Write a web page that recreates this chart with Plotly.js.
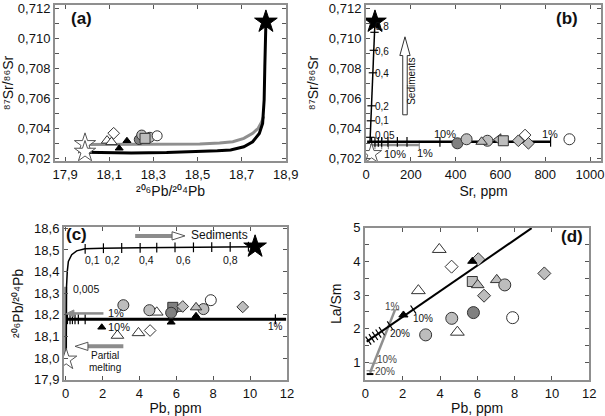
<!DOCTYPE html>
<html>
<head>
<meta charset="utf-8">
<script src="https://cdn.plot.ly/plotly-3.0.1.min.js"></script>
<style>
html,body{margin:0;padding:0;background:#fff;}
#chart{width:605px;height:416px;}
</style>
</head>
<body>
<div id="chart"></div>
<script>
// ================= DATA =================
// ---- Panel (a): 206Pb/204Pb vs 87Sr/86Sr ----
const aCurveBlackX = [17.99, 18.2, 18.36, 18.5, 18.59, 18.65, 18.71, 18.75, 18.78, 18.795, 18.802, 18.805, 18.807, 18.81];
const aCurveBlackY = [0.70240, 0.70236, 0.70238, 0.70243, 0.70250, 0.70256, 0.70277, 0.70310, 0.70365, 0.70433, 0.70590, 0.70810, 0.71030, 0.71110];
const aCurveGrayX = [17.99, 18.2, 18.4, 18.51, 18.6, 18.66, 18.71, 18.75, 18.775, 18.79, 18.80];
const aCurveGrayY = [0.70292, 0.70292, 0.70293, 0.70296, 0.70302, 0.70310, 0.70333, 0.70367, 0.70400, 0.70440, 0.70480];
const aWhiteStarX = [17.99, 17.99];       const aWhiteStarY = [0.70295, 0.70244];
const aBlackStarX = [18.81];              const aBlackStarY = [0.7111];
const aWhiteTriX = [18.09, 18.11];        const aWhiteTriY = [0.70318, 0.70308];
const aWhiteDiaX = [18.12];               const aWhiteDiaY = [0.70367];
const aBlackTriX = [18.145, 18.18];       const aBlackTriY = [0.70267, 0.70317];
const aDarkCircX = [18.236];              const aDarkCircY = [0.70325];
const aGrayCircX = [18.247, 18.284];      const aGrayCircY = [0.70355, 0.70340];
const aGraySqX = [18.262];                const aGraySqY = [0.70333];
const aWhiteCircX = [18.317];             const aWhiteCircY = [0.70350];

// ---- Panel (b): Sr ppm vs 87Sr/86Sr ----
const bMixX = [18, 40];                   const bMixY = [0.7031, 0.7111];
const bMixTickX = [19, 22, 25, 31, 35, 38];
const bMixTickY = [0.7034, 0.7045, 0.7055, 0.7077, 0.7092, 0.7104];
const bMixLabels = ['0,05', '0,1', '0,2', '0,4', '0,6', '0,8'];
const bMixLabelY = [0.70350, 0.70455, 0.70548, 0.70765, 0.70912, 0.71078];
const bMeltBlackX = [5, 824];             const bMeltBlackY = [0.7031, 0.7031];
const bMeltBlackTickX = [25, 40, 55, 70, 98, 140, 183, 330, 824];
const bMeltGrayX = [18, 238];             const bMeltGrayY = [0.70289, 0.70289];
const bMeltGrayTickX = [40, 70, 100, 238];
const bDarkCircX = [408];                 const bDarkCircY = [0.70300];
const bGrayCircX = [449, 542];            const bGrayCircY = [0.70327, 0.70317];
const bGrayTriX = [516];                  const bGrayTriY = [0.70310];
const bGrayTriLX = [591];                 const bGrayTriLY = [0.70325];
const bGraySqX = [613];                   const bGraySqY = [0.70317];
const bGrayDiaX = [680, 725];             const bGrayDiaY = [0.70317, 0.70300];
const bWhiteDiaX = [710];                 const bWhiteDiaY = [0.70355];
const bWhiteCircX = [908];                const bWhiteCircY = [0.70327];
const bWhiteStarX = [25];                 const bWhiteStarY = [0.70230];
const bBlackStarX = [40];                 const bBlackStarY = [0.7111];

// ---- Panel (c): Pb ppm vs 206Pb/204Pb ----
const cMixX = [0.03, 0.03, 0.05, 0.09, 0.15, 0.33, 0.6, 1.05, 2, 4, 6, 8, 10.27];
const cMixY = [17.994, 18.2, 18.33, 18.4, 18.447, 18.478, 18.496, 18.505, 18.508, 18.51, 18.512, 18.513, 18.515];
const cMixTickX = [1.06, 2.05, 3.04, 4.04, 4.94, 5.93, 6.93, 7.92, 8.92, 9.91];
const cMixTickY = [18.505, 18.508, 18.509, 18.51, 18.511, 18.512, 18.512, 18.513, 18.514, 18.515];
const cFracLabels = ['0,1', '0,2', '0,4', '0,6', '0,8'];
const cFracLabelX = [0.95, 2.0, 3.85, 5.9, 8.4];
const cGrayVertX = [0.0, 0.0];            const cGrayVertY = [17.994, 18.33];
const cMeltX = [0.06, 11.95];             const cMeltY = [18.18, 18.18];
const cMeltTickX = [0.1, 0.24, 0.37, 0.51, 0.69, 1.06, 11.37];
const cWhiteStarX = [0.03];               const cWhiteStarY = [17.994];
const cBlackStarX = [10.27];              const cBlackStarY = [18.515];
const cGrayCircX = [3.13, 4.54, 7.47];    const cGrayCircY = [18.245, 18.222, 18.227];
const cDarkCircX = [5.72];                const cDarkCircY = [18.21];
const cGraySqX = [5.81];                  const cGraySqY = [18.235];
const cGrayTriX = [6.03, 7.07];           const cGrayTriY = [18.228, 18.235];
const cGrayDiaX = [6.35, 9.6];            const cGrayDiaY = [18.239, 18.237];
const cWhiteCircX = [7.87];               const cWhiteCircY = [18.268];
const cWhiteTriX = [4.94, 2.81, 3.95];    const cWhiteTriY = [18.212, 18.105, 18.117];
const cWhiteDiaX = [4.58];                const cWhiteDiaY = [18.128];
const cBlackTriX = [1.96, 5.72, 7.07];    const cBlackTriY = [18.143, 18.166, 18.196];

// ---- Panel (d): Pb ppm vs La/Sm ----
const dMeltBlackX = [0.07, 8.91];         const dMeltBlackY = [1.62, 4.98];
const dMeltBlackTickX = [0.16, 0.34, 0.52, 0.70, 0.88, 1.32, 2.57];
const dMeltBlackTickY = [1.65, 1.72, 1.79, 1.86, 1.93, 2.10, 2.57];
const dMeltGrayX = [0.25, 1.59];          const dMeltGrayY = [0.70, 2.56];
const dMeltGrayTickX = [0.29, 0.43, 1.59]; const dMeltGrayTickY = [0.76, 0.98, 2.56];
const dBaseX = [0.07, 0.43];              const dBaseY = [0.66, 0.66];
const dWhiteTriX = [3.96, 2.84, 4.93];    const dWhiteTriY = [4.35, 3.13, 1.90];
const dWhiteDiaX = [4.62];                const dWhiteDiaY = [3.84];
const dBlackTriX = [5.73, 2.04];          const dBlackTriY = [4.00, 2.41];
const dGrayDiaX = [6.05, 9.59, 6.36];     const dGrayDiaY = [4.06, 3.64, 2.98];
const dGraySqX = [5.73];                  const dGraySqY = [3.40];
const dGrayTriX = [6.02, 7.04];           const dGrayTriY = [3.30, 3.45];
const dGrayCircX = [7.47, 4.63, 3.23];    const dGrayCircY = [3.30, 2.31, 1.82];
const dDarkCircX = [5.79];                const dDarkCircY = [2.48];
const dWhiteCircX = [7.89];               const dWhiteCircY = [2.33];

// ================= STYLE =================
const FONT = 'Liberation Sans, Arial, Helvetica, sans-serif';
const WHITE = '#ffffff', GRAY = '#bdbdbd', DARK = '#808080', EDGE = '#333333', LGRAY = '#8c8c8c';

function pts(x, y, xa, ya, symbol, fill, size, edge) {
  return {type:'scatter', mode:'markers', x:x, y:y, xaxis:xa, yaxis:ya, hoverinfo:'skip', showlegend:false,
    marker:{symbol:symbol, size:size, color:fill, line:{color:edge || EDGE, width:1}}};
}
function ln(x, y, xa, ya, color, width) {
  return {type:'scatter', mode:'lines', x:x, y:y, xaxis:xa, yaxis:ya, hoverinfo:'skip', showlegend:false,
    line:{color:color, width:width}};
}
function ticksTr(x, y, xa, ya, symbol, color, size, angle) {
  return {type:'scatter', mode:'markers', x:x, y:y, xaxis:xa, yaxis:ya, hoverinfo:'skip', showlegend:false,
    marker:{symbol:symbol, size:size, angle:angle || 0, color:color, line:{color:color, width:1.2}}};
}

const traces = [
  // (a)
  ln(aCurveGrayX, aCurveGrayY, 'x', 'y', '#8f8f8f', 3),
  ln(aCurveBlackX, aCurveBlackY, 'x', 'y', '#000', 3),
  pts(aWhiteTriX, aWhiteTriY, 'x', 'y', 'triangle-up', WHITE, 10),
  pts(aWhiteDiaX, aWhiteDiaY, 'x', 'y', 'diamond', WHITE, 9),
  pts(aBlackTriX, aBlackTriY, 'x', 'y', 'triangle-up', '#000', 7, '#000'),
  pts(aDarkCircX, aDarkCircY, 'x', 'y', 'circle', DARK, 10),
  pts(aGrayCircX, aGrayCircY, 'x', 'y', 'circle', GRAY, 10),
  pts(aGraySqX, aGraySqY, 'x', 'y', 'square', GRAY, 10),
  pts(aWhiteCircX, aWhiteCircY, 'x', 'y', 'circle', WHITE, 10),
  pts(aWhiteStarX, aWhiteStarY, 'x', 'y', 'star', WHITE, 16, '#555'),
  pts(aBlackStarX, aBlackStarY, 'x', 'y', 'star', '#000', 17, '#000'),
  // (b)
  ln(bMeltGrayX, bMeltGrayY, 'x2', 'y2', '#8f8f8f', 2.5),
  ticksTr(bMeltGrayTickX, bMeltGrayTickX.map(() => bMeltGrayY[0]), 'x2', 'y2', 'line-ns', '#8f8f8f', 6),
  ln(bMeltBlackX, bMeltBlackY, 'x2', 'y2', '#000', 2.5),
  ticksTr(bMeltBlackTickX, bMeltBlackTickX.map(() => bMeltBlackY[0]), 'x2', 'y2', 'line-ns', '#000', 7),
  ln(bMixX, bMixY, 'x2', 'y2', '#000', 1.5),
  ticksTr(bMixTickX, bMixTickY, 'x2', 'y2', 'line-ew', '#000', 6),
  pts(bDarkCircX, bDarkCircY, 'x2', 'y2', 'circle', DARK, 11),
  pts(bGrayCircX, bGrayCircY, 'x2', 'y2', 'circle', GRAY, 11),
  pts(bGrayTriX, bGrayTriY, 'x2', 'y2', 'triangle-up', GRAY, 10),
  pts(bGrayTriLX, bGrayTriLY, 'x2', 'y2', 'triangle-left', GRAY, 10),
  pts(bGraySqX, bGraySqY, 'x2', 'y2', 'square', GRAY, 10),
  pts(bGrayDiaX, bGrayDiaY, 'x2', 'y2', 'diamond', GRAY, 9),
  pts(bWhiteDiaX, bWhiteDiaY, 'x2', 'y2', 'diamond', WHITE, 9),
  pts(bWhiteCircX, bWhiteCircY, 'x2', 'y2', 'circle', WHITE, 11),
  pts(bWhiteStarX, bWhiteStarY, 'x2', 'y2', 'star', WHITE, 15, '#555'),
  pts(bBlackStarX, bBlackStarY, 'x2', 'y2', 'star', '#000', 17, '#000'),
  // (c)
  ln(cGrayVertX, cGrayVertY, 'x3', 'y3', '#8f8f8f', 3),
  ln(cMeltX, cMeltY, 'x3', 'y3', '#000', 3),
  ticksTr(cMeltTickX, cMeltTickX.map(() => cMeltY[0]), 'x3', 'y3', 'line-ns', '#000', 7),
  ln(cMixX, cMixY, 'x3', 'y3', '#000', 1.5),
  ticksTr(cMixTickX, cMixTickY, 'x3', 'y3', 'line-ns', '#000', 7),
  pts(cWhiteTriX, cWhiteTriY, 'x3', 'y3', 'triangle-up', WHITE, 11),
  pts(cWhiteDiaX, cWhiteDiaY, 'x3', 'y3', 'diamond', WHITE, 9),
  pts(cGrayCircX, cGrayCircY, 'x3', 'y3', 'circle', GRAY, 11),
  pts(cGrayTriX, cGrayTriY, 'x3', 'y3', 'triangle-up', GRAY, 10),
  pts(cGraySqX, cGraySqY, 'x3', 'y3', 'square', DARK, 10),
  pts(cDarkCircX, cDarkCircY, 'x3', 'y3', 'circle', DARK, 11),
  pts(cGrayDiaX, cGrayDiaY, 'x3', 'y3', 'diamond', GRAY, 9),
  pts(cWhiteCircX, cWhiteCircY, 'x3', 'y3', 'circle', WHITE, 11),
  pts(cBlackTriX, cBlackTriY, 'x3', 'y3', 'triangle-up', '#000', 7, '#000'),
  pts(cWhiteStarX, cWhiteStarY, 'x3', 'y3', 'star', WHITE, 16, '#555'),
  pts(cBlackStarX, cBlackStarY, 'x3', 'y3', 'star', '#000', 17, '#000'),
  // (d)
  ln(dMeltGrayX, dMeltGrayY, 'x4', 'y4', '#8f8f8f', 2.5),
  ticksTr(dMeltGrayTickX, dMeltGrayTickY, 'x4', 'y4', 'line-ew', '#8f8f8f', 6),
  ln(dBaseX, dBaseY, 'x4', 'y4', '#000', 2),
  ln(dMeltBlackX, dMeltBlackY, 'x4', 'y4', '#000', 2),
  ticksTr(dMeltBlackTickX, dMeltBlackTickY, 'x4', 'y4', 'line-ns', '#000', 7, -34),
  pts(dWhiteTriX, dWhiteTriY, 'x4', 'y4', 'triangle-up', WHITE, 12),
  pts(dWhiteDiaX, dWhiteDiaY, 'x4', 'y4', 'diamond', WHITE, 10),
  pts(dGraySqX, dGraySqY, 'x4', 'y4', 'square', GRAY, 10),
  pts(dGrayTriX, dGrayTriY, 'x4', 'y4', 'triangle-up', GRAY, 11),
  pts(dGrayCircX, dGrayCircY, 'x4', 'y4', 'circle', GRAY, 12),
  pts(dDarkCircX, dDarkCircY, 'x4', 'y4', 'circle', DARK, 12),
  pts(dWhiteCircX, dWhiteCircY, 'x4', 'y4', 'circle', WHITE, 12),
  pts(dGrayDiaX, dGrayDiaY, 'x4', 'y4', 'diamond', GRAY, 10),
  pts(dBlackTriX, dBlackTriY, 'x4', 'y4', 'triangle-up', '#000', 8, '#000')
];

// ================= AXES =================
const W = 605, H = 416;
const px = (a, b) => [a / W, b / W];
const py = (top, bottom) => [(H - bottom) / H, (H - top) / H];
const tickFont = {family: FONT, size: 13, color: '#111'};
const titleFont = {family: FONT, size: 14, color: '#111'};
const SR_TITLE = '\u2078\u2077Sr/\u2078\u2076Sr';
const PB_TITLE = '\u00B2\u2070\u2076Pb/\u00B2\u2070\u2074Pb';
function ax(extra) {
  return Object.assign({
    showline: true, linecolor: '#8f8f8f', linewidth: 2, mirror: 'ticks',
    ticks: 'inside', ticklen: 4, tickwidth: 1, tickcolor: '#555',
    showgrid: false, zeroline: false, tickfont: tickFont, fixedrange: true
  }, extra);
}

const layout = {
  width: W, height: H, margin: {l: 0, r: 0, t: 0, b: 0},
  paper_bgcolor: '#fff', plot_bgcolor: '#fff', showlegend: false,
  separators: ', ', font: {family: FONT},
  xaxis: ax({domain: px(55, 286), anchor: 'y', range: [17.854, 18.901], tick0: 17.9, dtick: 0.2, tickformat: '.1f',
    title: {text: PB_TITLE, font: titleFont, standoff: 6}}),
  yaxis: ax({domain: py(5, 161), anchor: 'x', range: [0.70182, 0.71222], tick0: 0.702, dtick: 0.002, tickformat: '.3f',
    minor: {dtick: 0.001, ticks: 'inside', ticklen: 4, tickcolor: '#555'},
    title: {text: SR_TITLE, font: titleFont, standoff: 1}}),
  xaxis2: ax({domain: px(366, 601), anchor: 'y2', range: [0, 1049], tick0: 0, dtick: 200,
    title: {text: 'Sr, ppm', font: titleFont, standoff: 6}}),
  yaxis2: ax({domain: py(5, 161), anchor: 'x2', range: [0.70182, 0.71222], tick0: 0.702, dtick: 0.002, tickformat: '.3f',
    minor: {dtick: 0.001, ticks: 'inside', ticklen: 4, tickcolor: '#555'},
    title: {text: SR_TITLE, font: titleFont, standoff: 7}}),
  xaxis3: ax({domain: px(64, 287), anchor: 'y3', range: [-0.087, 12.0], tick0: 0, dtick: 2,
    title: {text: 'Pb, ppm', font: titleFont, standoff: 6}}),
  yaxis3: ax({domain: py(227, 380), anchor: 'x3', range: [17.8995, 18.606], tick0: 17.9, dtick: 0.1, tickformat: '.1f',
    title: {text: PB_TITLE, font: titleFont, standoff: 7}}),
  xaxis4: ax({domain: px(365, 589.3), anchor: 'y4', range: [-0.02, 12.0], tick0: 0, dtick: 2,
    title: {text: 'Pb, ppm', font: titleFont, standoff: 6}}),
  yaxis4: ax({domain: py(227.5, 380), anchor: 'x4', range: [0.484, 5.0], tick0: 1, dtick: 1,
    minor: {dtick: 0.5, ticks: 'inside', ticklen: 4, tickcolor: '#555'},
    title: {text: 'La/Sm', font: titleFont, standoff: 8}}),
  annotations: [],
  shapes: []
};

// ================= ANNOTATIONS =================
function note(text, x, y, xr, yr, size, extra) {
  layout.annotations.push(Object.assign({text: text, x: x, y: y, xref: xr, yref: yr, showarrow: false,
    xanchor: 'center', yanchor: 'middle',
    font: {family: FONT, size: size, color: '#111'}}, extra || {}));
}
const boldFont = {family: FONT, size: 17, color: '#111', weight: 'bold'};
// panel letters
note('(a)', 0.116, 0.915, 'x domain', 'y domain', 17, {font: boldFont});
note('(b)', 0.854, 0.915, 'x2 domain', 'y2 domain', 17, {font: boldFont});
note('(c)', 0.057, 0.948, 'x3 domain', 'y3 domain', 17, {font: boldFont});
note('(d)', 0.921, 0.94, 'x4 domain', 'y4 domain', 17, {font: boldFont});

// (b) mixing-fraction labels
bMixLabels.forEach((t, i) => note(t, 30, bMixLabelY[i], 'x2', 'y2', 10, {xanchor: 'left'}));
note('10%', 352, 0.70360, 'x2', 'y2', 11);
note('1%', 821, 0.70360, 'x2', 'y2', 11);
note('10%', 129, 0.70229, 'x2', 'y2', 11);
note('1%', 263, 0.70237, 'x2', 'y2', 11);
note('Sediments', 200, 0.70715, 'x2', 'y2', 10, {textangle: -90});

// (b) open arrow (Sediments)
const bArrowX = 174, bArrowBase = 0.7049, bArrowTip = 0.7101;
(function () {
  const sw = 10, hw = 23, hl = 0.00125, t = bArrowTip, b = bArrowBase, x = bArrowX;
  layout.shapes.push({type: 'path', xref: 'x2', yref: 'y2',
    path: `M ${x - sw} ${b} L ${x - sw} ${t - hl} L ${x - hw} ${t - hl} L ${x} ${t} L ${x + hw} ${t - hl} L ${x + sw} ${t - hl} L ${x + sw} ${b} Z`,
    fillcolor: '#fff', line: {color: '#333', width: 1}});
})();

// (c) labels
cFracLabels.forEach((t, i) => note(t, cFracLabelX[i], 18.455, 'x3', 'y3', 10.5, {xanchor: 'left'}));
note('0,005', 0.3, 18.318, 'x3', 'y3', 10.5, {xanchor: 'left'});
note('1%', 2.2, 18.209, 'x3', 'y3', 11, {xanchor: 'left'});
note('10%', 2.2, 18.143, 'x3', 'y3', 11, {xanchor: 'left'});
note('1%', 11.4, 18.145, 'x3', 'y3', 10);
note('Sediments', 8.32, 18.569, 'x3', 'y3', 12);
note('Partial', 2.14, 18.013, 'x3', 'y3', 10);
note('melting', 2.14, 17.956, 'x3', 'y3', 10);

// (c) gray arrow at 1% (filled gray head pointing left)
const cGrayArrow = {x0: 2.05, x1: 0.05, y: 18.207};
layout.shapes.push({type: 'line', xref: 'x3', yref: 'y3', x0: cGrayArrow.x0, x1: cGrayArrow.x1 + 0.3,
  y0: cGrayArrow.y, y1: cGrayArrow.y, line: {color: LGRAY, width: 2.5}});
layout.shapes.push({type: 'path', xref: 'x3', yref: 'y3',
  path: `M ${cGrayArrow.x1 + 0.4} ${cGrayArrow.y - 0.016} L ${cGrayArrow.x1} ${cGrayArrow.y} L ${cGrayArrow.x1 + 0.4} ${cGrayArrow.y + 0.016} Z`,
  fillcolor: LGRAY, line: {color: LGRAY, width: 1}});

// (c) open-headed arrows
const cSedArrow = {x0: 3.77, x1: 6.47, y: 18.565};
const cMeltArrow = {x0: 3.13, x1: 0.51, y: 18.055};
function hArrow(a) {
  const dir = a.x1 > a.x0 ? 1 : -1;
  const hl = 0.7 * dir, hh = 0.019;
  const base = a.x1 - hl;
  layout.shapes.push({type: 'line', xref: 'x3', yref: 'y3', x0: a.x0, x1: base, y0: a.y, y1: a.y,
    line: {color: LGRAY, width: 4}});
  layout.shapes.push({type: 'path', xref: 'x3', yref: 'y3',
    path: `M ${base} ${a.y - hh} L ${a.x1} ${a.y} L ${base} ${a.y + hh} Z`,
    fillcolor: '#fff', line: {color: '#555', width: 1}});
}
hArrow(cSedArrow);
hArrow(cMeltArrow);

// (d) labels
note('1%', 1.43, 2.66, 'x4', 'y4', 10, {font: {family: FONT, size: 10, color: '#444'}});
note('10%', 3.11, 2.31, 'x4', 'y4', 10);
note('20%', 1.86, 1.85, 'x4', 'y4', 10);
note('10%', 1.15, 1.09, 'x4', 'y4', 10, {font: {family: FONT, size: 10, color: '#444'}});
note('20%', 1.04, 0.74, 'x4', 'y4', 10, {font: {family: FONT, size: 10, color: '#444'}});

Plotly.newPlot('chart', traces, layout, {staticPlot: true, displayModeBar: false});
</script>
</body>
</html>
